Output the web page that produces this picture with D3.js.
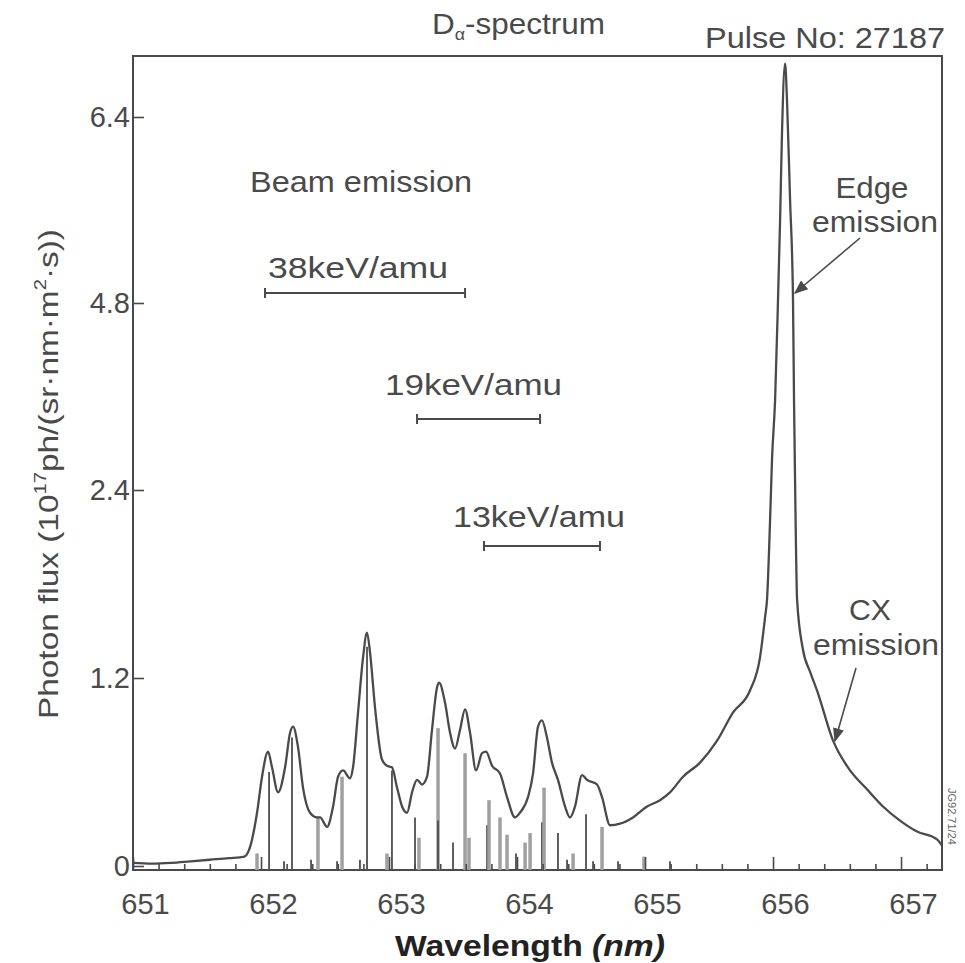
<!DOCTYPE html>
<html><head><meta charset="utf-8">
<script src="https://cdn.jsdelivr.net/npm/d3@7"></script>
<style>body{margin:0;background:#fff}svg{display:block}text{font-family:"Liberation Sans",Arial,sans-serif}</style>
</head><body>
<svg id="c" width="965" height="963"></svg>
<script>
// ---- data ----
const wavelength = [651.00,651.15,651.30,651.45,651.60,651.75,651.87,651.914,651.969,652.008,652.055,652.086,652.133,652.188,652.227,652.25,652.289,652.328,652.383,652.438,652.461,652.516,652.563,652.602,652.641,652.695,652.719,652.758,652.797,652.828,652.852,652.891,652.945,652.984,653.023,653.063,653.102,653.141,653.18,653.219,653.258,653.297,653.336,653.375,653.391,653.438,653.477,653.516,653.555,653.594,653.633,653.68,653.727,653.758,653.805,653.867,653.922,653.984,654.023,654.086,654.125,654.164,654.195,654.234,654.273,654.32,654.375,654.414,654.453,654.508,654.547,654.625,654.664,654.727,654.805,654.906,655.016,655.117,655.195,655.297,655.43,655.563,655.688,655.82,655.898,655.938,655.953,655.977,655.992,656.016,656.039,656.055,656.07,656.094,656.109,656.133,656.156,656.164,656.172,656.188,656.234,656.289,656.344,656.469,656.602,656.734,656.859,656.992,657.125,657.281,657.32];
const photonFlux = [0.02,0.015,0.02,0.03,0.04,0.05,0.06,0.12,0.34,0.57,0.73,0.63,0.47,0.63,0.85,0.89,0.76,0.50,0.34,0.31,0.31,0.25,0.38,0.57,0.61,0.56,0.63,0.98,1.33,1.49,1.36,1.01,0.68,0.64,0.63,0.50,0.38,0.34,0.47,0.55,0.52,0.57,0.87,1.14,1.17,1.04,0.85,0.75,0.87,1.00,0.85,0.61,0.72,0.73,0.64,0.59,0.44,0.31,0.34,0.44,0.59,0.89,0.93,0.82,0.66,0.55,0.38,0.31,0.38,0.58,0.55,0.52,0.44,0.26,0.27,0.31,0.38,0.42,0.47,0.57,0.66,0.80,0.98,1.12,1.33,1.59,1.70,2.21,2.79,3.55,4.83,5.51,6.26,6.86,6.55,5.69,4.83,3.55,2.53,1.70,1.38,1.24,1.12,0.80,0.61,0.49,0.38,0.29,0.22,0.17,0.13];
// beam-emission component lines
const lineWavelength = [651.969,652.063,652.18,652.242,652.391,652.445,652.594,652.633,652.773,652.828,652.984,653.023,653.203,653.234,653.383,653.383,653.5,653.594,653.625,653.766,653.781,653.867,653.922,653.992,654.063,654.102,654.195,654.211,654.32,654.391,654.438,654.539,654.594,654.664,654.789,654.992,655.195];
const lineFlux =       [0.08,0.60,0.03,0.82,0.04,0.31,0.03,0.57,0.04,1.40,0.08,0.61,0.31,0.18,0.88,0.29,0.15,0.72,0.18,0.26,0.42,0.31,0.20,0.08,0.15,0.21,0.28,0.50,0.21,0.04,0.08,0.33,0.03,0.25,0.03,0.06,0.03];
const lineKind =       ["g","d","d","d","d","g","d","g","d","d","g","d","d","g","g","d","d","g","g","d","g","g","g","d","g","g","d","g","d","d","g","d","d","g","d","g","d"];
const yTicks = [0, 1.2, 2.4, 4.8, 6.4];
const yTickLabels = ["0", "1.2", "2.4", "4.8", "6.4"];
const xTicks = [651, 652, 653, 654, 655, 656, 657];
const energyLabels = ["38keV/amu", "19keV/amu", "13keV/amu"];
const energyStart = [652.031, 653.219, 653.742];
const energyEnd = [653.594, 654.18, 654.648];

// ---- layout ----
const svg = d3.select("#c");
const L = 133, R = 942, T = 56, B = 870;
const x = d3.scaleLinear().domain([651, 657.32]).range([L, R]);
const y = d3.scaleLinear().domain(yTicks).range([866, 678, 490, 303, 117]);
const ink = "#4a4a4a";

function label(xp, yp, txt, len, anchor) {
  return svg.append("text").attr("x", xp).attr("y", yp).attr("font-size", 30).attr("fill", ink)
    .attr("text-anchor", anchor || "start").attr("textLength", len).attr("lengthAdjust", "spacingAndGlyphs").text(txt);
}

// frame
svg.append("rect").attr("x", L).attr("y", T).attr("width", R - L).attr("height", B - T)
  .attr("fill", "none").attr("stroke", ink).attr("stroke-width", 2);

// component lines
const sticks = lineWavelength.map((w, i) => ({w, v: lineFlux[i], k: lineKind[i]}));
svg.append("g").selectAll("line").data(sticks).join("line")
  .attr("x1", d => x(d.w)).attr("x2", d => x(d.w))
  .attr("y1", B).attr("y2", d => y(d.v))
  .attr("stroke", d => d.k === "g" ? "#a0a0a0" : "#4e4e4e")
  .attr("stroke-width", d => d.k === "g" ? 3.5 : 1.8);

// spectrum
const pts = wavelength.map((w, i) => [w, photonFlux[i]]);
svg.append("path").datum(pts)
  .attr("d", d3.line().x(d => x(d[0])).y(d => y(d[1])).curve(d3.curveMonotoneX))
  .attr("fill", "none").attr("stroke", ink).attr("stroke-width", 2.3).attr("stroke-linejoin", "round");

// axes
const xMinor = d3.range(651, 657.3, 0.2).filter(v => Math.abs(v - Math.round(v)) > 1e-6);
const xAxisG = svg.append("g").attr("transform", `translate(0,${B})`);
xAxisG.call(d3.axisTop(x).tickValues(xMinor).tickSize(6).tickFormat(""));
xAxisG.call(g => g.select(".domain").remove());
const xMajor = svg.append("g").attr("transform", `translate(0,${B})`)
  .call(d3.axisTop(x).tickValues(xTicks).tickSize(13).tickFormat(d3.format("d")));
xMajor.select(".domain").remove();
xMajor.selectAll("text").attr("y", 23).attr("dy", "0.71em").attr("dx", 12)
  .attr("font-size", 29).attr("fill", ink).attr("font-family", "Liberation Sans, Arial, sans-serif");
svg.selectAll(".tick line").attr("stroke", ink).attr("stroke-width", 1.6);

const yAxisG = svg.append("g").attr("transform", `translate(${L},0)`)
  .call(d3.axisRight(y).tickValues(yTicks).tickSize(11).tickFormat((d, i) => yTickLabels[i]));
yAxisG.select(".domain").remove();
yAxisG.selectAll(".tick line").attr("stroke", ink).attr("stroke-width", 1.6);
yAxisG.selectAll("text").attr("x", -3).attr("text-anchor", "end")
  .attr("font-size", 29).attr("fill", ink).attr("font-family", "Liberation Sans, Arial, sans-serif");

// titles
const t = svg.append("text").attr("x", 432).attr("y", 34).attr("font-size", 30).attr("fill", ink)
  .attr("textLength", 173).attr("lengthAdjust", "spacingAndGlyphs");
t.append("tspan").text("D");
t.append("tspan").text("α").attr("font-size", 17).attr("dy", 6);
t.append("tspan").text("-spectrum").attr("dy", -6);
label(945, 48, "Pulse No: 27187", 240, "end");

// y label
const yl = svg.append("text").attr("transform", "translate(58,474) rotate(-90)")
  .attr("text-anchor", "middle").attr("font-size", 28).attr("fill", ink)
  .attr("textLength", 490).attr("lengthAdjust", "spacingAndGlyphs");
yl.append("tspan").text("Photon flux (10");
yl.append("tspan").text("17").attr("font-size", 17).attr("dy", -12);
yl.append("tspan").text("ph/(sr·nm·m").attr("dy", 12);
yl.append("tspan").text("2").attr("font-size", 17).attr("dy", -12);
yl.append("tspan").text("·s))").attr("dy", 12);

// x label
const xl = svg.append("text").attr("x", 530).attr("y", 956).attr("text-anchor", "middle")
  .attr("font-size", 29).attr("font-weight", "bold").attr("fill", "#222")
  .attr("textLength", 270).attr("lengthAdjust", "spacingAndGlyphs");
xl.append("tspan").text("Wavelength ");
xl.append("tspan").text("(nm)").attr("font-style", "italic");

// annotations
label(250, 192, "Beam emission", 222);
const eLabelY = [278, 395, 527];
const eBarY = [293, 419, 546];
const eLabelX = [268, 385, 453];
const eLabelLen = [180, 177, 172];
energyLabels.forEach((lab, i) => {
  label(eLabelX[i], eLabelY[i], lab, eLabelLen[i]);
  const g = svg.append("g").attr("stroke", ink).attr("stroke-width", 2);
  g.append("line").attr("x1", x(energyStart[i])).attr("x2", x(energyEnd[i])).attr("y1", eBarY[i]).attr("y2", eBarY[i]);
  g.append("line").attr("x1", x(energyStart[i])).attr("x2", x(energyStart[i])).attr("y1", eBarY[i] - 5).attr("y2", eBarY[i] + 5);
  g.append("line").attr("x1", x(energyEnd[i])).attr("x2", x(energyEnd[i])).attr("y1", eBarY[i] - 5).attr("y2", eBarY[i] + 5);
});

svg.append("defs").append("marker").attr("id", "ah").attr("viewBox", "0 0 10 10")
  .attr("refX", 9).attr("refY", 5).attr("markerWidth", 14).attr("markerHeight", 14)
  .attr("markerUnits", "userSpaceOnUse").attr("orient", "auto")
  .append("path").attr("d", "M0,1 L10,5 L0,9 Z").attr("fill", ink);

label(872, 198, "Edge", 73, "middle");
label(875, 232, "emission", 126, "middle");
svg.append("line").attr("x1", 860).attr("y1", 238).attr("x2", 795).attr("y2", 293)
  .attr("stroke", ink).attr("stroke-width", 1.6).attr("marker-end", "url(#ah)");

label(870, 620, "CX", 42, "middle");
label(876, 655, "emission", 126, "middle");
svg.append("line").attr("x1", 856).attr("y1", 668).attr("x2", 835).attr("y2", 741)
  .attr("stroke", ink).attr("stroke-width", 1.6).attr("marker-end", "url(#ah)");

svg.append("text").attr("transform", "translate(948,788) rotate(90)").attr("font-size", 11)
  .attr("fill", "#666").text("JG92.71/24");
</script>
</body></html>
